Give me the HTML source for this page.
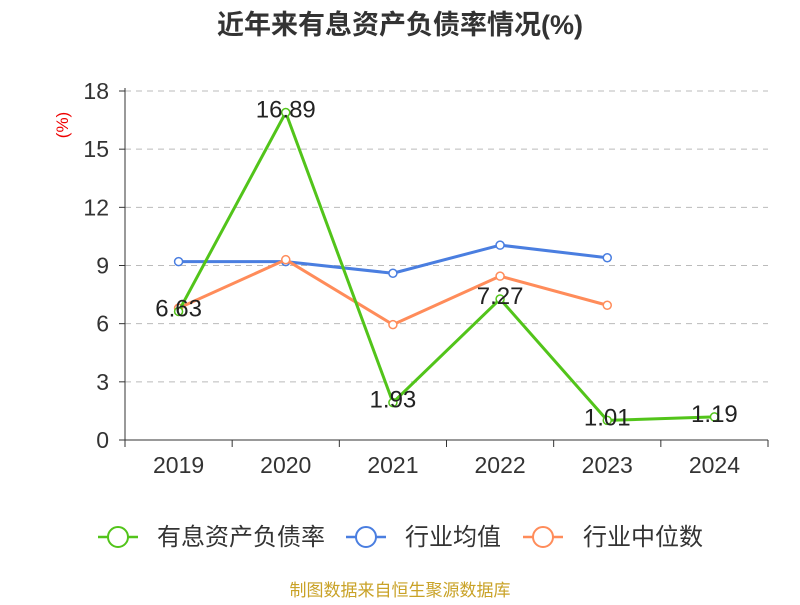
<!DOCTYPE html>
<html><head><meta charset="utf-8"><style>
body{margin:0;background:#fff;}
svg text{font-family:"Liberation Sans","Noto Sans CJK SC",sans-serif;}
</style></head><body>
<svg width="800" height="600" viewBox="0 0 800 600" xmlns="http://www.w3.org/2000/svg">
<text x="400" y="34" text-anchor="middle" font-size="27" font-weight="bold" fill="#333">近年来有息资产负债率情况(%)</text>
<text x="0" y="0" transform="translate(68,125) rotate(-90)" text-anchor="middle" font-size="17" fill="#e00">(%)</text>
<g id="grid"></g><g id="axes"></g><g id="series"></g>
<g>
 <g><line x1="98" y1="537" x2="138" y2="537" stroke="#52c41a" stroke-width="2.5"/><circle cx="118" cy="537" r="10" fill="#fff" stroke="#52c41a" stroke-width="2"/><text x="157" y="545" font-size="24" fill="#333">有息资产负债率</text></g>
 <g><line x1="346" y1="537" x2="386" y2="537" stroke="#4a7ee0" stroke-width="2.5"/><circle cx="366" cy="537" r="10" fill="#fff" stroke="#4a7ee0" stroke-width="2"/><text x="405" y="545" font-size="24" fill="#333">行业均值</text></g>
 <g><line x1="523" y1="537" x2="563" y2="537" stroke="#ff8c5a" stroke-width="2.5"/><circle cx="543" cy="537" r="10" fill="#fff" stroke="#ff8c5a" stroke-width="2"/><text x="583" y="545" font-size="24" fill="#333">行业中位数</text></g>
</g>
<text x="400" y="596" text-anchor="middle" font-size="17" fill="#c9a227">制图数据来自恒生聚源数据库</text>
</svg>
<script>
const categories=["2019","2020","2021","2022","2023","2024"];
const debtRatio=[6.63,16.89,1.93,7.27,1.01,1.19];
const industryMean=[9.2,9.2,8.6,10.05,9.4];
const industryMedian=[6.8,9.3,5.95,8.45,6.95];
const yTicks=[0,3,6,9,12,15,18];
const NS="http://www.w3.org/2000/svg";
const x0=125,x1=768,yb=440,yt=91,ymax=18;
const bw=(x1-x0)/categories.length;
const xs=i=>x0+bw*(i+0.5);
const ys=v=>yb-(v/ymax)*(yb-yt);
function mk(t,a,p){const e=document.createElementNS(NS,t);for(const k in a)e.setAttribute(k,a[k]);p.appendChild(e);return e;}
const grid=document.getElementById('grid'),axes=document.getElementById('axes'),ser=document.getElementById('series');
yTicks.forEach(v=>{
 if(v>0){const g=mk('line',{x1:x0,x2:x1,y1:ys(v),y2:ys(v),stroke:'#bbb','stroke-dasharray':'6,5'},grid);
 
 }
 const tk=mk('line',{x1:x0-6,x2:x0,y1:ys(v),y2:ys(v),stroke:'#333'},axes);
 
 
 const t=mk('text',{x:x0-16,y:ys(v)+8,'text-anchor':'end','font-size':23,fill:'#333'},axes);t.textContent=v;
 
 
});
const ya=mk('line',{x1:x0,x2:x0,y1:yt-3,y2:yb,stroke:'#333'},axes);


const xa=mk('line',{x1:x0,x2:x1,y1:yb,y2:yb,stroke:'#333'},axes);


for(let i=0;i<=categories.length;i++){const l=mk('line',{x1:x0+bw*i,x2:x0+bw*i,y1:yb,y2:yb+7,stroke:'#333'},axes);
 
 }
categories.forEach((c,i)=>{const t=mk('text',{x:xs(i),y:yb+33,'text-anchor':'middle','font-size':23,fill:'#333'},axes);t.textContent=c;
 
 });
function series(vals,color,name,labels){
 const p=mk('polyline',{points:vals.map((v,i)=>xs(i)+','+ys(v)).join(' '),fill:'none',stroke:color,'stroke-width':3,'stroke-linejoin':'round'},ser);
 
 
 vals.forEach((v,i)=>{const c=mk('circle',{cx:xs(i),cy:ys(v),r:4,fill:'#fff',stroke:color,'stroke-width':1.5},ser);
  
  });
 if(labels)vals.forEach((v,i)=>{const t=mk('text',{x:xs(i),y:ys(v)+5,'text-anchor':'middle','font-size':24,fill:'#222'},ser);t.textContent=v.toFixed(2);
  
  });
}
series(industryMean,'#4a7ee0','industry-mean',false);
series(industryMedian,'#ff8c5a','industry-median',false);
series(debtRatio,'#52c41a','debt-ratio',true);
</script>
</body></html>
